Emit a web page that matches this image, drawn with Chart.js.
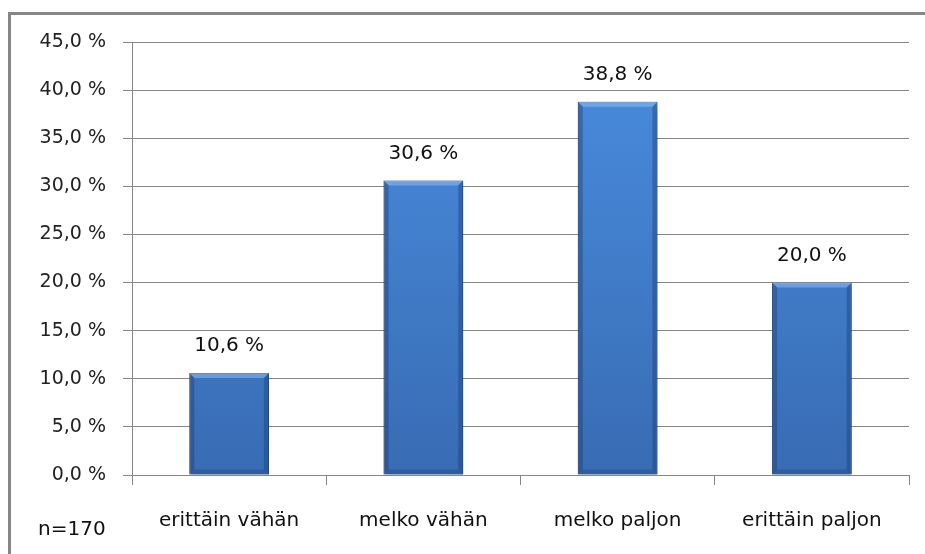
<!DOCTYPE html>
<html>
<head>
<meta charset="utf-8">
<script src="https://cdn.jsdelivr.net/npm/chart.js@4"></script>
<style>
  html, body { margin: 0; padding: 0; background: #fff; }
  #wrap { position: relative; width: 925px; height: 554px; overflow: hidden; }
  #frame {
    position: absolute; left: 8px; top: 12px; width: 940px; height: 560px;
    border-left: 3px solid #868686; border-top: 3px solid #868686;
  }
  #note {
    position: absolute; left: 38px; top: 516px;
    font: 20px "DejaVu Sans", sans-serif; color: #111;
  }
  canvas { position: absolute; left: 0; top: 0; }
</style>
</head>
<body>
<div id="wrap">
  <div id="frame"></div>
  <canvas id="chart" width="925" height="554"></canvas>
  <div id="note">n=170</div>
</div>
<script>
const categories = ["erittäin vähän", "melko vähän", "melko paljon", "erittäin paljon"];
const shares = [10.6, 30.6, 38.8, 20.0];
const yTicks = [0, 5, 10, 15, 20, 25, 30, 35, 40, 45];

const fmt = v => v.toFixed(1).replace(".", ",") + " %";

// value labels above each bar
const valueLabels = {
  id: "valueLabels",
  afterDatasetsDraw(chart) {
    const ctx = chart.ctx;
    const meta = chart.getDatasetMeta(0);
    ctx.save();
    ctx.font = '20px "DejaVu Sans", sans-serif';
    ctx.fillStyle = "#111";
    ctx.textAlign = "center";
    ctx.textBaseline = "bottom";
    meta.data.forEach((bar, i) => {
      ctx.fillText(fmt(shares[i]), bar.x, bar.y - 17);
    });
    ctx.restore();
  }
};

// soft drop shadow under bars, then a small bevel on top of them
const barLook = {
  id: "barLook",
  beforeDatasetDraw(chart) {
    const ctx = chart.ctx;
    ctx.save();
    ctx.shadowColor = "rgba(0,0,0,0.35)";
    ctx.shadowBlur = 5;
    ctx.shadowOffsetX = 2;
    ctx.shadowOffsetY = 2;
  },
  afterDatasetDraw(chart) {
    const ctx = chart.ctx;
    ctx.restore();
    const meta = chart.getDatasetMeta(0);
    const e = 5;
    ctx.save();
    meta.data.forEach(bar => {
      const l = bar.x - bar.width / 2, r = bar.x + bar.width / 2;
      const t = bar.y, b = bar.base;
      // top bevel
      ctx.fillStyle = "rgba(140,190,245,0.55)";
      ctx.beginPath();
      ctx.moveTo(l, t); ctx.lineTo(r, t); ctx.lineTo(r - e, t + e); ctx.lineTo(l + e, t + e);
      ctx.closePath(); ctx.fill();
      // side edges
      ctx.fillStyle = "rgba(20,50,100,0.35)";
      ctx.beginPath();
      ctx.moveTo(l, t); ctx.lineTo(l + e, t + e); ctx.lineTo(l + e, b - e); ctx.lineTo(l, b);
      ctx.closePath(); ctx.fill();
      ctx.beginPath();
      ctx.moveTo(r, t); ctx.lineTo(r - e, t + e); ctx.lineTo(r - e, b - e); ctx.lineTo(r, b);
      ctx.closePath(); ctx.fill();
      // bottom edge
      ctx.fillStyle = "rgba(20,50,100,0.25)";
      ctx.beginPath();
      ctx.moveTo(l, b); ctx.lineTo(l + e, b - e); ctx.lineTo(r - e, b - e); ctx.lineTo(r, b);
      ctx.closePath(); ctx.fill();
    });
    ctx.restore();
  }
};

function barFill(context) {
  const area = context.chart.chartArea;
  if (!area) return "#3d7bd0";
  const g = context.chart.ctx.createLinearGradient(0, area.top, 0, area.bottom);
  g.addColorStop(0, "#4a8de0");
  g.addColorStop(1, "#386cb3");
  return g;
}

new Chart(document.getElementById("chart"), {
  type: "bar",
  data: {
    labels: categories,
    datasets: [{
      data: shares,
      backgroundColor: barFill,
      borderColor: "#2b5a98",
      borderWidth: 1,
      barPercentage: 0.82,
      categoryPercentage: 0.5
    }]
  },
  plugins: [barLook, valueLabels],
  options: {
    responsive: false,
    animation: false,
    layout: { padding: { top: 42, right: 16, left: 0, bottom: 0 } },
    plugins: {
      legend: { display: false },
      tooltip: { enabled: false }
    },
    scales: {
      x: {
        afterFit: s => { s.height = 79; },
        grid: {
          offset: true,
          drawOnChartArea: false,
          drawTicks: true,
          tickLength: 10,
          color: "#868686"
        },
        border: { display: true, color: "#868686" },
        ticks: {
          padding: 24,
          color: "#111",
          font: { family: "DejaVu Sans", size: 20 }
        }
      },
      y: {
        min: 0,
        max: 45,
        afterFit: s => { s.width = 132; },
        afterBuildTicks: s => { s.ticks = yTicks.map(v => ({ value: v })); },
        grid: {
          color: "#868686",
          tickLength: 9,
          drawTicks: true
        },
        border: { display: true, color: "#868686" },
        ticks: {
          padding: 17,
          color: "#222",
          font: { family: "DejaVu Sans", size: 19 },
          callback: v => fmt(v)
        }
      }
    }
  }
});
</script>
</body>
</html>
